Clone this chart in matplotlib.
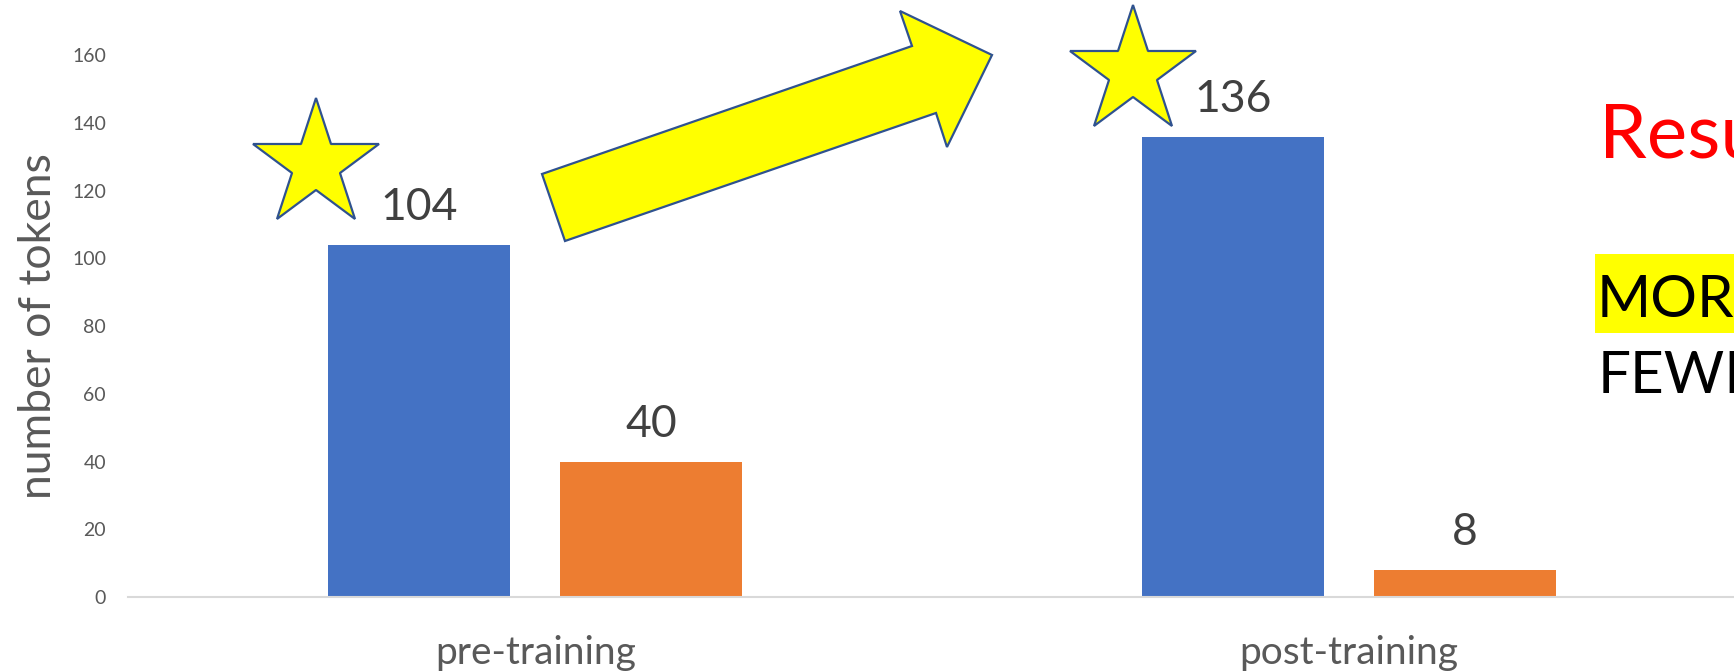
import matplotlib
matplotlib.use("Agg")
import matplotlib.pyplot as plt
from matplotlib.patches import Polygon, Rectangle

plt.rcParams['font.family'] = ['Lato', 'DejaVu Sans']

categories = ["pre-training", "post-training"]
blue_vals = [104, 136]
orange_vals = [40, 8]
y_ticks = [0, 20, 40, 60, 80, 100, 120, 140, 160]

# decoration positions (data coords) for the stars
star_x = [-0.269, 0.734]
star_y = [127.6, 155.1]

W, H = 1734, 672
fig = plt.figure(figsize=(W / 100, H / 100), dpi=100)
ax = fig.add_axes([128.3 / W, 75 / H, (1756 - 128.3) / W, (616.7 - 75) / H])

x = list(range(len(categories)))
bw = 0.224
off = 0.1425
ax.bar([i - off for i in x], blue_vals, width=bw, color='#4472C4', zorder=2)
ax.bar([i + off for i in x], orange_vals, width=bw, color='#ED7D31', zorder=2)

for i in x:
    for xx, v in [(i - off, blue_vals[i]), (i + off, orange_vals[i])]:
        ax.annotate(str(v), (xx, v), xytext=(0, 18), textcoords='offset points',
                    ha='center', va='baseline', fontsize=32, color='#404040')
    ax.annotate(categories[i], (i, 0), xytext=(0, -48), textcoords='offset points',
                ha='center', va='baseline', fontsize=28, color='#595959',
                annotation_clip=False)

ax.plot(star_x, star_y, linestyle='none', marker='*', ms=96,
        mfc='#FFFF00', mec='#2F528F', mew=1.6, zorder=5, clip_on=False)

ax.set_xlim(-0.5, 1.5)
ax.set_ylim(0, 160)
ax.set_yticks(y_ticks)
ax.set_xticks([])
ax.tick_params(axis='y', length=0, labelsize=14, labelcolor='#595959', pad=16)
for s in ['top', 'right', 'left']:
    ax.spines[s].set_visible(False)
ax.spines['bottom'].set_color('#D9D9D9')
ax.spines['bottom'].set_linewidth(1.5)
ax.patch.set_alpha(0)

fig.text(38.7 / W, 1 - 326 / H, "number of tokens", rotation=90, ha='center',
         va='center', fontsize=32, color='#595959')

# block arrow (figure pixels, from top-left)
arrow_px = [(542, 174), (912, 46), (900, 11), (992, 55), (947, 147),
            (936, 113), (565, 241)]
arrow_pts = [(px / W, 1 - py / H) for px, py in arrow_px]
fig.add_artist(Polygon(arrow_pts, closed=True, facecolor='#FFFF00',
                       edgecolor='#2F528F', linewidth=1.6, transform=fig.transFigure))

# right-hand text
fig.add_artist(Rectangle((1595 / W, 1 - 332.7 / H), (W - 1595) / W, 78.7 / H,
                         facecolor='#FFFF00', edgecolor='none', transform=fig.transFigure))
fig.text(1599 / W, 1 - 157.3 / H, "Results", fontsize=55, color='#FF0000',
         ha='left', va='baseline')
fig.text(1597 / W, 1 - 316.7 / H, "MORE", fontsize=42, color='black',
         ha='left', va='baseline')
fig.text(1598 / W, 1 - 393.3 / H, "FEWER", fontsize=42, color='black',
         ha='left', va='baseline')

fig.savefig("out.png", dpi=100)
